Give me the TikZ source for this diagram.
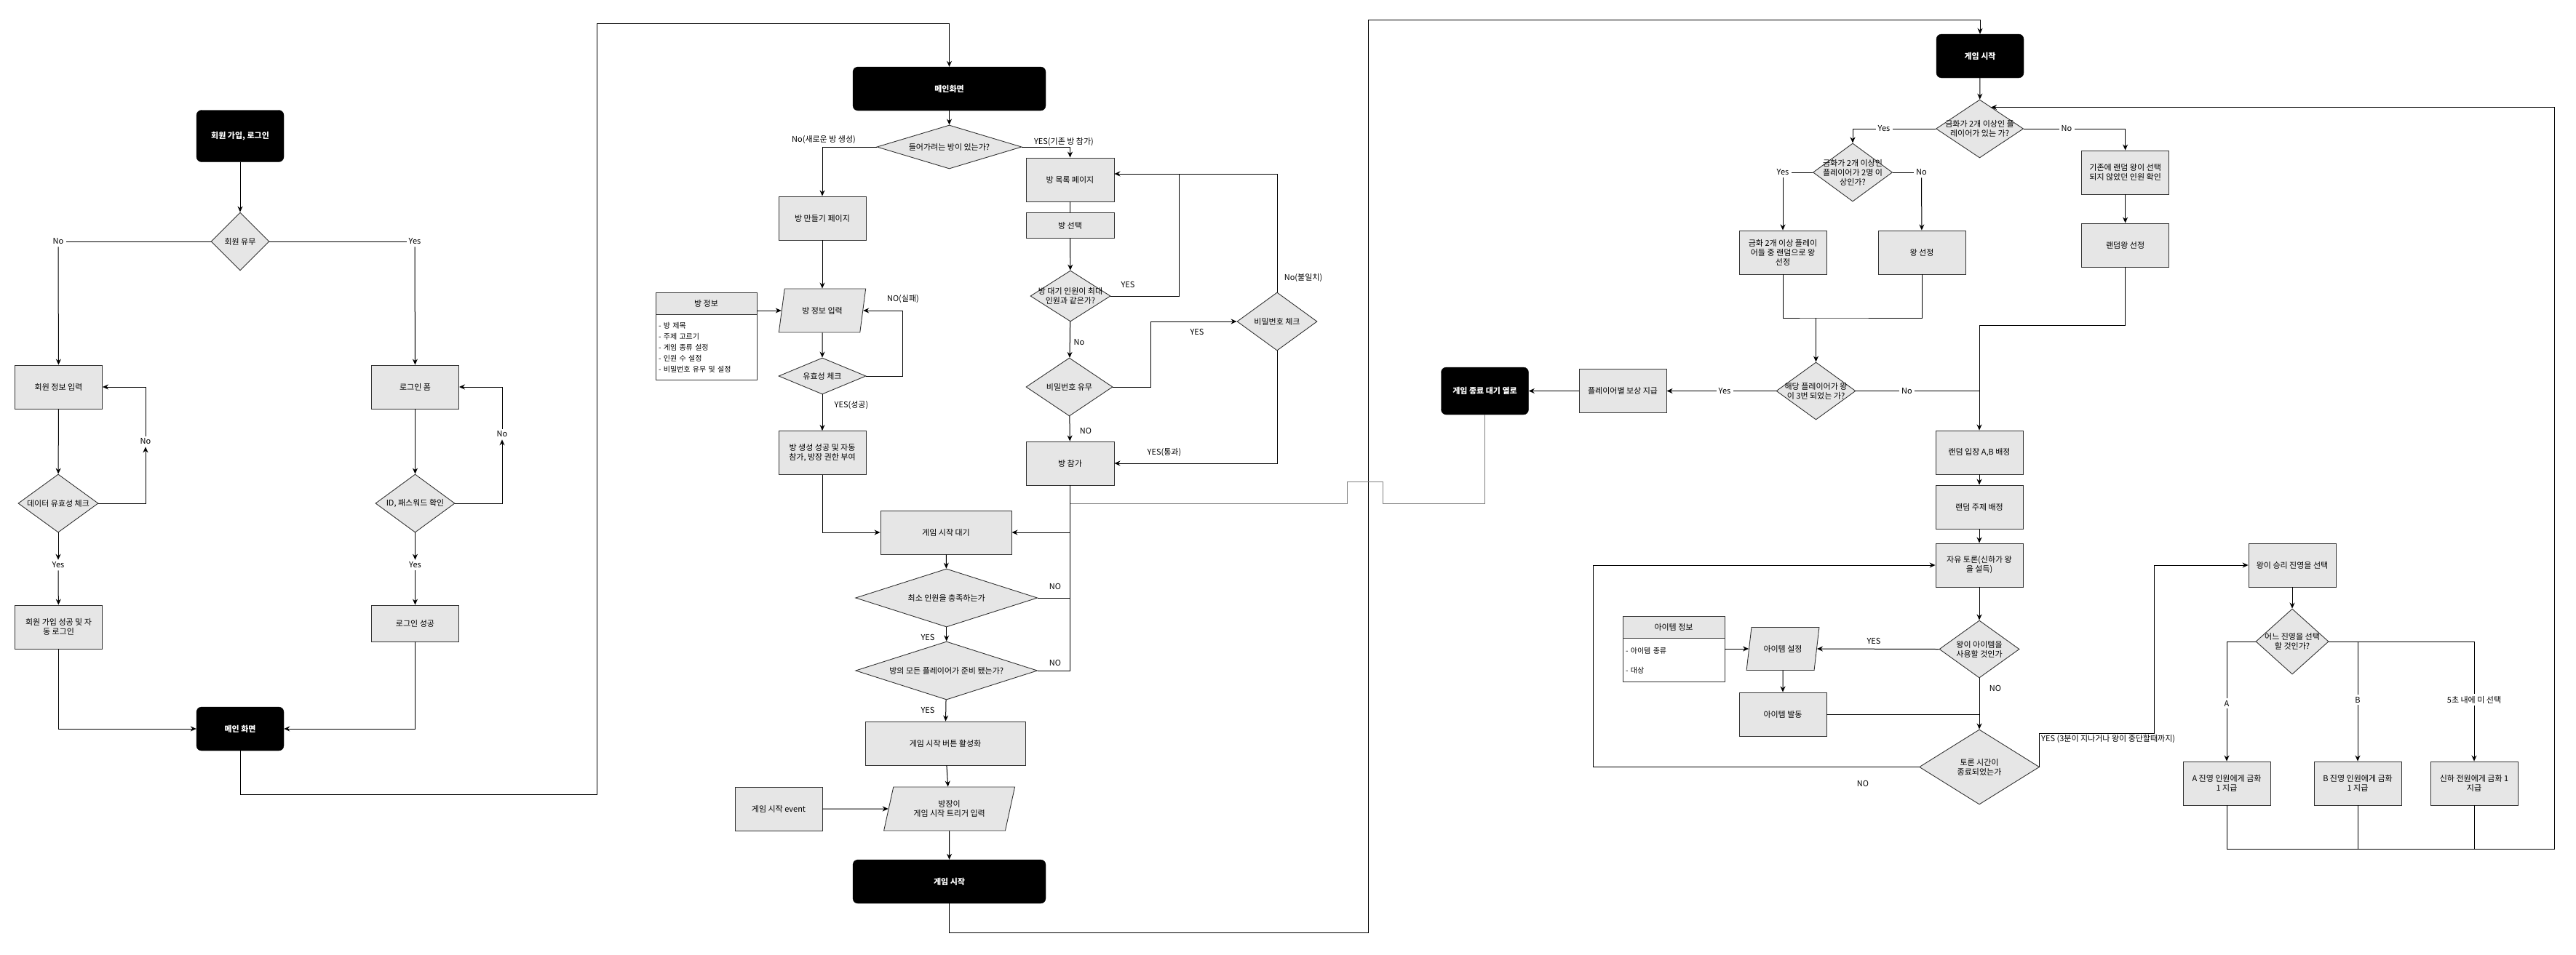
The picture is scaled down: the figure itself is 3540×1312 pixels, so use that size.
\documentclass[tikz,border=0pt]{standalone}
\usepackage{fontspec}
\setmainfont{Noto Sans CJK KR}
\usetikzlibrary{positioning,shapes.geometric,arrows.meta}
\definecolor{boxgray}{HTML}{E6E6E6}
\definecolor{edgegray}{HTML}{333333}
\tikzset{
  base/.style={font=\fontsize{11}{13}\selectfont, align=center, inner sep=2pt},
  term/.style={base, rectangle, rounded corners=7pt, fill=black, draw=black, text=white,
    font=\fontsize{11}{13}\selectfont\bfseries, minimum width=120pt, minimum height=60pt},
  proc/.style={base, rectangle, fill=boxgray, draw=edgegray, line width=0.9pt,
    minimum width=120pt, minimum height=60pt},
  dec/.style={diamond, fill=boxgray, draw=edgegray, line width=0.9pt, inner sep=0pt},
  para/.style={base, trapezium, trapezium left angle=72, trapezium right angle=108,
    trapezium stretches=true, fill=boxgray, draw=edgegray, line width=0.9pt,
    minimum width=120pt, minimum height=60pt},
  lbl/.style={base, fill=white, inner sep=3pt},
  list/.style={rectangle, draw=edgegray, fill=white, line width=0.9pt, align=left,
    font=\fontsize{10}{15}\selectfont, inner sep=4pt},
  line/.style={line width=1pt, draw=black},
  arr/.style={line, -{Stealth[length=8pt,width=7pt]}}
}
\begin{document}
\begin{tikzpicture}[x=1pt, y=-1pt]
\useasboundingbox (0,0) rectangle (3540,1312);

% sign up / login
\node[term, minimum height=71pt] (start1) at (330,187) {회원 가입, 로그인};
\node[dec, minimum width=80pt, minimum height=80pt, label={[base]center:회원 유무}] (q1) at (330,332) {};
\node[lbl] (lNo1) at (80,332) {No};
\node[lbl] (lYes1) at (570,332) {Yes};
\node[proc] (p1) at (80.5,532) {회원 정보 입력};
\node[proc] (p2) at (570.5,532) {로그인 폼};
\node[dec, minimum width=110pt, minimum height=80pt, label={[base]center:데이터 유효성 체크}] (q2) at (80,692) {};
\node[dec, minimum width=109pt, minimum height=80pt, label={[base]center:{ID, 패스워드 확인}}] (q3) at (570.5,692) {};
\node[lbl] (lNo2) at (200,607) {No};
\node[lbl] (lNo3) at (690,597) {No};
\node[lbl] (lYes2) at (80,777) {Yes};
\node[lbl] (lYes3) at (570.5,777) {Yes};
\node[proc] (p3) at (80.5,862) {회원 가입 성공 및 자\\동 로그인};
\node[proc, minimum height=50pt] (p4) at (570.5,857) {로그인 성공};
\node[term] (main1) at (330,1002) {메인 화면};

\draw[arr] (start1) -- (q1);
\draw[line] (q1.west) -- (lNo1);
\draw[arr] (lNo1) -- (p1);
\draw[line] (q1.east) -- (lYes1);
\draw[arr] (lYes1) -- (p2);
\draw[arr] (p1) -- (q2);
\draw[arr] (p2) -- (q3);
\draw[arr] (q2.east) -| (lNo2);
\draw[arr] (lNo2) |- (p1.east);
\draw[arr] (q3.east) -| (lNo3);
\draw[arr] (lNo3) |- (p2.east);
\draw[arr] (q2) -- (lYes2);
\draw[arr] (lYes2) -- (p3);
\draw[arr] (q3) -- (lYes3);
\draw[arr] (lYes3) -- (p4);
\draw[arr] (p3.south) |- (main1.west);
\draw[arr] (p4.south) |- (main1.east);

% room
\node[term, minimum width=265pt] (main2) at (1304.5,122) {메인화면};
\node[dec, minimum width=199pt, minimum height=60pt, label={[base]center:들어가려는 방이 있는가?}] (q4) at (1304.5,202) {};
\node[proc] (p5) at (1130,300) {방 만들기 페이지};
\node[para] (in1) at (1130,427) {방 정보 입력};
\node[proc, minimum width=139pt, minimum height=30pt] (info1h) at (970.5,417) {방 정보};
\node[list, below=0pt of info1h, text width=131pt, minimum height=90pt] (info1b)
  {- 방 제목\\- 주제 고르기\\- 게임 종류 설정\\- 인원 수 설정\\- 비밀번호 유무 및 설정};
\node[dec, minimum width=120pt, minimum height=50pt, label={[base]center:유효성 체크}] (q5) at (1130,517) {};
\node[proc] (p6) at (1130,622.5) {방 생성 성공 및 자동\\참가, 방장 권한 부여};
\node[proc, minimum width=121pt] (p7) at (1470.5,247) {방 목록 페이지};
\node[proc, minimum width=121pt, minimum height=35pt] (p8) at (1470.5,310) {방 선택};
\node[dec, minimum width=110pt, minimum height=70pt, label={[base]center:방 대기 인원이 최대\\인원과 같은가?}] (q6) at (1471,407) {};
\node[dec, minimum width=119pt, minimum height=80pt, label={[base]center:비밀번호 유무}] (q7) at (1469.5,532) {};
\node[dec, minimum width=110pt, minimum height=80pt, label={[base]center:비밀번호 체크}] (q8) at (1755,442) {};
\node[proc, minimum width=121pt] (p9) at (1470.5,637) {방 참가};
\node[proc, minimum width=180pt] (p10) at (1300,732) {게임 시작 대기};
\node[dec, minimum width=250pt, minimum height=80pt, label={[base]center:최소 인원을 충족하는가}] (q9) at (1300.7,822) {};
\node[dec, minimum width=250pt, minimum height=80pt, label={[base]center:방의 모든 플레이어가 준비 됐는가?}] (q10) at (1300.7,922) {};
\node[proc, minimum width=220pt] (p11) at (1299,1022) {게임 시작 버튼 활성화};
\node[para, minimum width=180pt] (in2) at (1304.6,1112) {방장이\\게임 시작 트리거 입력};
\node[proc] (p12) at (1070,1112) {게임 시작 event};
\node[term, minimum width=265pt] (end1) at (1304.5,1212) {게임 시작};
\coordinate (j1) at (1620,239);
\coordinate (hop) at (1470.5,692);

\node[base] at (1132,192) {No(새로운 방 생성)};
\node[base] at (1462,195) {YES(기존 방 참가)};
\node[base] at (1241,411) {NO(실패)};
\node[base] at (1170,557) {YES(성공)};
\node[base] at (1550,391) {YES};
\node[base] at (1483,471) {No};
\node[base] at (1645,456) {YES};
\node[base] at (1791,382) {No(불일치)};
\node[base] at (1600,622) {YES(통과)};
\node[base] at (1492,592) {NO};
\node[base] at (1450,806) {NO};
\node[base] at (1450,911) {NO};
\node[base] at (1275,876) {YES};
\node[base] at (1275,976) {YES};

\draw[arr] (main1.south) -- (330,1092) -- (820,1092) -- (820,32) -| (main2.north);
\draw[arr] (main2) -- (q4);
\draw[arr] (q4.west) -| (p5.north);
\draw[arr] (p5) -- (in1);
\draw[arr] (info1h.east |- in1.west) -- (in1.west);
\draw[arr] (in1) -- (q5);
\draw[arr] (q5.east) -- ++(50,0) |- (in1.east);
\draw[arr] (q5) -- (p6);
\draw[arr] (p6.south) |- (p10.west);
\draw[arr] (q4.east) -| (p7.north);
\draw[line] (p7) -- (p8);
\draw[arr] (p8) -- (q6);
\draw[line] (q6.east) -| (j1);
\draw[arr] (q6) -- (q7);
\draw[arr] (q7.east) -- ++(52,0) |- (q8.west);
\draw[arr] (q8.north) |- (p7.east |- j1);
\draw[arr] (q8.south) |- (p9.east);
\draw[arr] (q7) -- (p9);
\draw[arr] (p9.south) |- (p10.east);
\draw[line] (q9.east) -- (q9.east -| p9.south);
\draw[line] (q10.east) -| (p9.south);
\draw[arr] (p10) -- (q9);
\draw[arr] (q9) -- (q10);
\draw[arr] (q10) -- (p11);
\draw[arr] (p11) -- (in2);
\draw[arr] (p12) -- (in2);
\draw[arr] (in2) -- (end1);

% game
\node[term] (start3) at (2721,77) {게임 시작};
\node[dec, minimum width=120pt, minimum height=80pt, label={[base]center:금화가 2개 이상인 플\\레이어가 있는 가?}] (q11) at (2720.5,177) {};
\node[lbl] (lYes4) at (2589,177) {Yes};
\node[lbl] (lNo4) at (2840,177) {No};
\node[dec, minimum width=109pt, minimum height=80pt, label={[base]center:금화가 2개 이상인\\플레이어가 2명 이\\상인가?}] (q12) at (2546,237) {};
\node[lbl] (lYes5) at (2450,237) {Yes};
\node[lbl] (lNo5) at (2640.5,237) {No};
\node[proc] (p13) at (2450,347) {금화 2개 이상 플레이\\어들 중 랜덤으로 왕\\선정};
\node[proc] (p14) at (2641,347) {왕 선정};
\node[proc] (p15) at (2920.6,237) {기존에 랜덤 왕이 선택\\되지 않았던 인원 확인};
\node[proc] (p16) at (2920.6,337) {랜덤왕 선정};
\node[dec, minimum width=109pt, minimum height=79pt, label={[base]center:해당 플레이어가 왕\\이 3번 되었는 가?}] (q13) at (2495.5,537.5) {};
\node[lbl] (lYes6) at (2370,537.5) {Yes};
\node[lbl] (lNo6) at (2620.5,537.5) {No};
\node[proc] (p17) at (2230,537.5) {플레이어별 보상 지급};
\node[term, minimum height=65pt] (wait1) at (2040.5,537.5) {게임 종료 대기 열로};
\node[proc] (p18) at (2720,622) {랜덤 입장 A,B 배정};
\node[proc] (p19) at (2720,697) {랜덤 주제 배정};
\node[proc] (p20) at (2720,777) {자유 토론(신하가 왕\\을 설득)};
\node[dec, minimum width=110pt, minimum height=79pt, label={[base]center:왕이 아이템을\\사용할 것인가}] (q14) at (2720,892.5) {};
\node[para, minimum width=100pt, minimum height=59pt] (in3) at (2450,892) {아이템 설정};
\node[proc, minimum width=140pt, minimum height=30pt] (info2h) at (2300,862) {아이템 정보};
\node[list, below=0pt of info2h, text width=132pt, minimum height=60pt] (info2b)
  {- 아이템 종류\\[12pt]- 대상};
\node[proc] (p21) at (2450,982) {아이템 발동};
\node[dec, minimum width=165pt, minimum height=103pt, label={[base]center:토론 시간이\\종료되었는가}] (q15) at (2720,1054.5) {};
\node[proc] (p22) at (3150,777) {왕이 승리 진영을 선택};
\node[dec, minimum width=100pt, minimum height=90pt, label={[base]center:어느 진영을 선택\\할 것인가?}] (q16) at (3150,882) {};
\node[lbl] (lA) at (3060,967) {A};
\node[lbl] (lB) at (3240,962) {B};
\node[lbl] (lC) at (3400,962) {5초 내에 미 선택};
\node[proc] (p23) at (3060,1077) {A 진영 인원에게 금화\\1 지급};
\node[proc] (p24) at (3240,1077) {B 진영 인원에게 금화\\1 지급};
\node[proc] (p25) at (3400,1077) {신하 전원에게 금화 1\\지급};
\coordinate (m1) at (2495.5,437);
\coordinate (m2) at (2720,447);
\coordinate (q11in) at (2736,147.5);

\node[base] at (2575,881) {YES};
\node[base] at (2742,946) {NO};
\node[base] at (2560,1077) {NO};
\node[base, anchor=west] at (2803,1016) {YES (3분이 지나거나 왕이 중단할때까지)};

\draw[arr] (end1.south) -- (1304.5,1282) -- (1880,1282) -- (1880,27) -| (start3.north);
\draw[line, draw=gray] (wait1.south) |- (1900,692) -- (1900,662) -- (1851,662) -- (1851,692) -- (hop);
\draw[arr] (start3) -- (q11);
\draw[line] (q11.west) -- (lYes4);
\draw[arr] (lYes4.west) -| (q12.north);
\draw[line] (q11.east) -- (lNo4);
\draw[arr] (lNo4.east) -| (p15.north);
\draw[line] (q12.west) -- (lYes5);
\draw[arr] (lYes5) -- (p13);
\draw[line] (q12.east) -- (lNo5);
\draw[arr] (lNo5) -- (p14);
\draw[line] (p13.south) |- (m1) -| (p14.south);
\draw[arr] (m1) -- (q13.north);
\draw[line] (q13.west) -- (lYes6);
\draw[arr] (lYes6) -- (p17);
\draw[arr] (p17) -- (wait1);
\draw[line] (q13.east) -- (lNo6);
\draw[line] (lNo6) -- (lNo6 -| m2);
\draw[arr] (p15) -- (p16);
\draw[line] (p16.south) |- (m2);
\draw[arr] (m2) -- (p18.north);
\draw[arr] (p18) -- (p19);
\draw[arr] (p19) -- (p20);
\draw[arr] (p20) -- (q14);
\draw[arr] (q14.west) -- (in3.east);
\draw[arr] (info2b.east |- in3.west) -- (in3.west);
\draw[arr] (in3) -- (p21);
\draw[line] (p21.east) -- (p21.east -| q14.south);
\draw[arr] (q14) -- (q15);
\draw[arr] (q15.west) -- ++(-448,0) |- (p20.west);
\draw[arr] (q15.east) |- (2960,1008) |- (p22.west);
\draw[arr] (p22) -- (q16);
\draw[line] (q16.west) -| (lA);
\draw[arr] (lA) -- (p23);
\draw[line] (q16.east) -| (lC);
\draw[arr] (lC) -- (p25);
\draw[line] (q16.east -| lB) -- (lB);
\draw[arr] (lB) -- (p24);
\draw[arr] (p23.south) |- (3510.5,1167) -- (3510.5,147.5) -- (q11in);
\draw[line] (p24.south) -- ++(0,60);
\draw[line] (p25.south) -- ++(0,60);
\end{tikzpicture}
\end{document}
